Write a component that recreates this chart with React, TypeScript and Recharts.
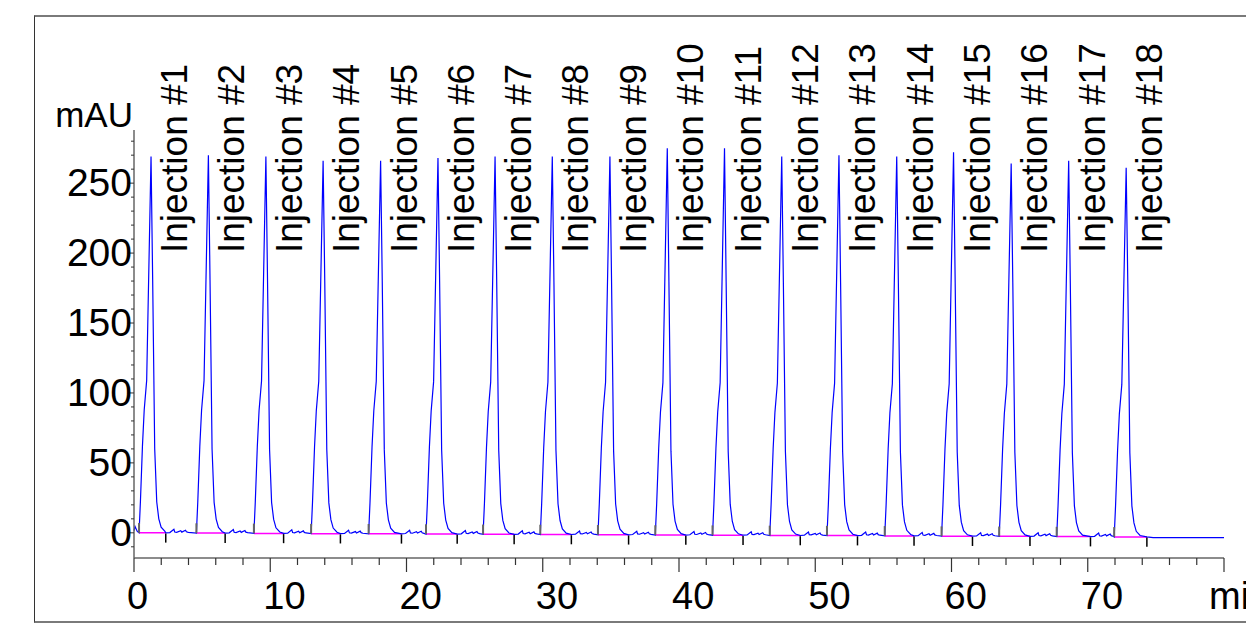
import React from "react"
import { ComposedChart, Line, Scatter, XAxis, YAxis, ReferenceLine } from "recharts"

const FONT = '"Liberation Sans", Arial, sans-serif'

// (minutes / mAU)
const injectionLabels = [
  "Injection #1", "Injection #2", "Injection #3", "Injection #4", "Injection #5", "Injection #6",
  "Injection #7", "Injection #8", "Injection #9", "Injection #10", "Injection #11", "Injection #12",
  "Injection #13", "Injection #14", "Injection #15", "Injection #16", "Injection #17", "Injection #18",
]
const peakStarts = [0.37, 4.58, 8.8, 13.0, 17.22, 21.43, 25.62, 29.82, 34.05, 38.26, 42.46, 46.66, 50.86, 55.1, 59.27, 63.5, 67.72, 71.94]
const peakApex = [1.25, 5.46, 9.68, 13.88, 18.1, 22.31, 26.5, 30.7, 34.93, 39.14, 43.34, 47.54, 51.74, 55.98, 60.15, 64.38, 68.6, 72.82]
const peakEnds = [2.33, 6.69, 10.98, 15.15, 19.63, 23.72, 27.9, 32.1, 36.3, 40.5, 44.7, 48.9, 53.1, 57.25, 61.54, 65.76, 70.2, 74.34]
const peakHeights = [269, 270, 269, 266, 266, 268, 269, 269, 269, 275, 275, 269, 270, 269, 272, 264, 266, 261]
const baseLevels = [0, -0.2, -0.4, -0.6, -0.7, -0.9, -1.1, -1.2, -1.4, -1.6, -1.7, -1.9, -2.0, -2.2, -2.4, -2.5, -2.7, -2.9]

// peak outline: minutes after the start mark, mAU above baseline
const riseOffsets = [0, 0.1, 0.25, 0.38, 0.56]
const riseValues = [0, 22, 62, 88, 109]
const fallOffsets = [1.0, 1.15, 1.3, 1.45, 1.62, 1.9]
const fallValues = [181, 60, 22, 10, 4, 1]
// small baseline bumps after a peak ends
const noiseOffsets = [0.3, 0.6, 0.66, 0.8, 1.1, 1.18, 1.45, 1.52, 1.65]
const noiseValues = [0.2, 2.5, 0.6, 0.4, 1.5, 0.5, 1.8, 0.7, 0.3]
const leadTimes = [0, 0.08, 0.15, 0.24]
const leadValues = [1.5, 4.5, 3, 1]
const tailTimes = [74.8, 80]
const tailValues = [-3.4, -3.4]

const xTicks = [0, 2, 4, 6, 8, 10, 12, 14, 16, 18, 20, 22, 24, 26, 28, 30, 32, 34, 36, 38, 40, 42, 44, 46, 48, 50, 52, 54, 56, 58, 60, 62, 64, 66, 68, 70, 72, 74, 76, 78, 80]
const yTicks = [-10, 0, 10, 20, 30, 40, 50, 60, 70, 80, 90, 100, 110, 120, 130, 140, 150, 160, 170, 180, 190, 200, 210, 220, 230, 240, 250, 260, 270, 280]

const trace: { t: number; v: number }[] = []
leadTimes.forEach((t, i) => trace.push({ t, v: leadValues[i] }))
peakStarts.forEach((s, i) => {
  const b = baseLevels[i]
  riseOffsets.forEach((d, k) => trace.push({ t: s + d, v: b + riseValues[k] }))
  trace.push({ t: peakApex[i], v: peakHeights[i] })
  fallOffsets.forEach((d, k) => trace.push({ t: s + d, v: b + fallValues[k] }))
  trace.push({ t: peakEnds[i], v: b })
  if (i < peakStarts.length - 1) {
    noiseOffsets.forEach((d, k) => {
      if (peakEnds[i] + d < peakStarts[i + 1] - 0.05) trace.push({ t: peakEnds[i] + d, v: b + noiseValues[k] })
    })
  }
})
tailTimes.forEach((t, i) => trace.push({ t, v: tailValues[i] }))

const baselineSegs: { t: number; v: number | null }[] = []
peakStarts.forEach((s, i) => {
  baselineSegs.push({ t: s, v: baseLevels[i] })
  baselineSegs.push({ t: peakEnds[i], v: baseLevels[i] })
  baselineSegs.push({ t: peakEnds[i], v: null })
})

const labelPoints = peakApex.map((t, i) => ({ t, v: 200, name: injectionLabels[i] }))

const YTick = (props: any) => {
  const { x, y, payload } = props
  const v = payload.value
  const major = v % 50 === 0 && v >= 0
  return (
    <g>
      <line x1={x} x2={x - (major ? 5 : 3)} y1={y} y2={y} stroke="#333" strokeWidth={1} />
      {major && (
        <text x={x - 2} y={y + 13} textAnchor="end" fontSize={39} fontFamily={FONT} fill="#000">
          {v}
        </text>
      )}
    </g>
  )
}

const XTick = (props: any) => {
  const { x, y, payload } = props
  const v = payload.value
  const major = v % 10 === 0
  return (
    <g>
      <line x1={x} x2={x} y1={y} y2={y + (major ? 14 : 7)} stroke="#333" strokeWidth={1.2} />
      {major && v < 80 && (
        <text x={x - 7} y={y + 51} textAnchor="start" fontSize={38} fontFamily={FONT} fill="#000">
          {v}
        </text>
      )}
      {v === 80 && (
        <text x={x - 15} y={y + 51} textAnchor="start" fontSize={38} fontFamily={FONT} fill="#000">
          min
        </text>
      )}
    </g>
  )
}

const InjectionLabel = (props: any) => {
  const { cx, cy, payload } = props
  const x = cx + 36
  return (
    <text x={x} y={cy} transform={`rotate(-90, ${x}, ${cy})`} textAnchor="start" fontSize={37} fontFamily={FONT} fill="#000">
      {payload.name}
    </text>
  )
}

export default function App() {
  return (
    <div style={{ position: "fixed", left: 0, top: 0, width: 1246, height: 638, overflow: "hidden", background: "#fff" }}>
      <div
        style={{
          position: "absolute", left: 34, top: 15, width: 1300, height: 604,
          borderTop: "2px solid #7a7a7a", borderBottom: "2px solid #7a7a7a", borderLeft: "1.5px solid #333",
        }}
      />
      <div style={{ position: "absolute", left: 8, top: 8 }}>
        <ComposedChart width={1238} height={620} margin={{ top: 122, right: 22, left: 0, bottom: 0 }}>
          <XAxis
            dataKey="t" type="number" domain={[0, 80]} ticks={xTicks} interval={0}
            height={70} tickSize={0} tickMargin={0} tickLine={false} tick={<XTick />}
            axisLine={{ stroke: "#666", strokeWidth: 1.5 }}
          />
          <YAxis
            dataKey="v" type="number" domain={[-18, 288]} ticks={yTicks} interval={0}
            width={126} tickSize={0} tickMargin={0} tickLine={false} tick={<YTick />}
            axisLine={{ stroke: "#666", strokeWidth: 1.5 }}
          />
          <text x={125} y={119} textAnchor="end" fontSize={35} fontFamily={FONT} fill="#000">mAU</text>
          <Line data={baselineSegs} dataKey="v" stroke="#ff00ff" strokeWidth={1.5} dot={false} connectNulls={false} isAnimationActive={false} />
          <Line data={trace} dataKey="v" type="linear" stroke="#0000ff" strokeWidth={1.2} dot={false} isAnimationActive={false} />
          {peakStarts.map((s, i) => (
            <ReferenceLine key={`s${i}`} segment={[{ x: s, y: baseLevels[i] }, { x: s, y: baseLevels[i] + 7 }]} stroke="#666" strokeWidth={2} ifOverflow="visible" />
          ))}
          {peakEnds.map((e, i) => (
            <ReferenceLine key={`e${i}`} segment={[{ x: e, y: baseLevels[i] - 0.5 }, { x: e, y: baseLevels[i] - 7 }]} stroke="#000" strokeWidth={1.5} ifOverflow="visible" />
          ))}
          <Scatter data={labelPoints} dataKey="v" shape={<InjectionLabel />} isAnimationActive={false} />
        </ComposedChart>
      </div>
    </div>
  )
}
